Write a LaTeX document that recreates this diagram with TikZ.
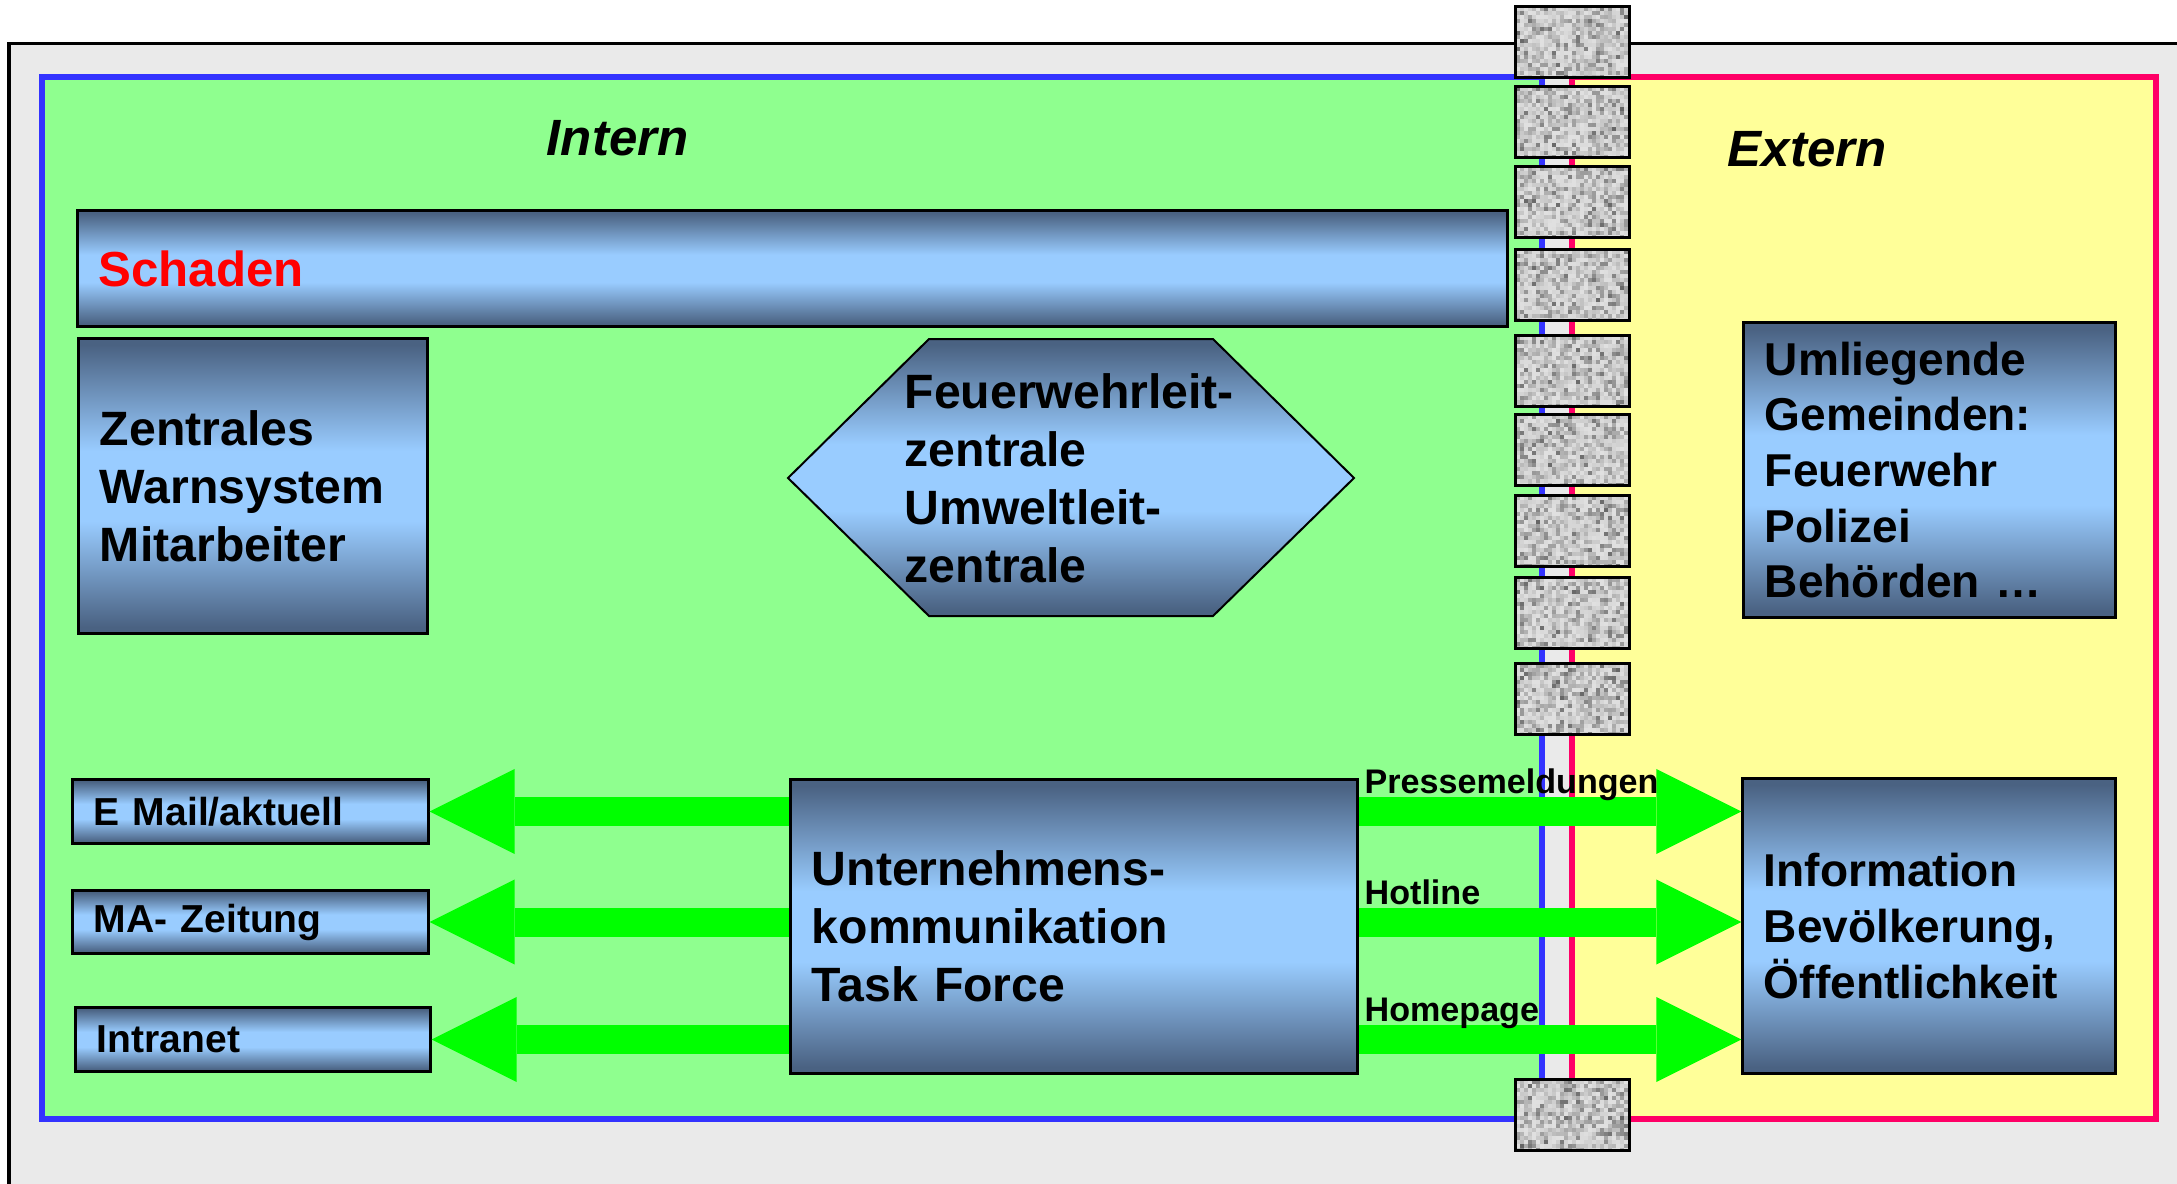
\documentclass[tikz,border=0pt]{standalone}
\usepackage{fontspec}
\setmainfont{Liberation Sans}
\usetikzlibrary{arrows.meta}
\definecolor{innengruen}{HTML}{8FFF8F}
\definecolor{aussengelb}{HTML}{FFFF99}
\definecolor{rahmengrau}{HTML}{EAEAEA}
\definecolor{linieblau}{HTML}{3333FF}
\definecolor{linierot}{HTML}{FF0066}
\definecolor{pfeilgruen}{HTML}{00FF00}
\definecolor{boxdunkel}{HTML}{4A6282}
\definecolor{boxhell}{HTML}{99CCFF}
\pgfdeclareverticalshading{schiefer}{100bp}{color(0bp)=(boxdunkel); color(26bp)=(boxdunkel); color(44bp)=(boxhell); color(56bp)=(boxhell); color(74bp)=(boxdunkel); color(100bp)=(boxdunkel)}
\tikzset{
  kasten/.style={draw,line width=0.03cm,shade,shading=schiefer,inner xsep=0.21cm,inner ysep=0pt,align=left},
  grosstext/.style={font=\fontsize{13.7pt}{16.5pt}\selectfont\bfseries},
  mitteltext/.style={font=\fontsize{13.1pt}{15.8pt}\selectfont\bfseries},
  kleintext/.style={font=\fontsize{11.1pt}{13pt}\selectfont\bfseries},
  bereich/.style={font=\fontsize{14.5pt}{17pt}\selectfont\bfseries\itshape,anchor=base west,inner sep=0},
  kanal/.style={font=\fontsize{9.7pt}{11pt}\selectfont\bfseries,text=black,anchor=base west,inner sep=0,outer sep=0,xshift=0.06cm,yshift=0.18cm},
  blockpfeil/.style={pfeilgruen,line width=0.29cm,-{Triangle[length=0.85cm,width=0.85cm,line width=0pt]}},
  stein/.style={draw,line width=0.03cm,minimum width=1.13cm,minimum height=0.70cm,inner sep=0,outer sep=0,
    path picture={
      \foreach \i in {0,...,28}
        \foreach \j in {0,...,17}{
          \pgfmathsetmacro\g{int(12+52*rnd*rnd)}
          \fill[black!\g] ([shift={(4*\i,4*\j)}]path picture bounding box.north west) rectangle +(4,4);
        }
    }}
}
\begin{document}
\begin{tikzpicture}[x=0.01cm,y=-0.01cm]
  \useasboundingbox (0,0) rectangle (2177,1184);
  \fill[rahmengrau] (9,43) rectangle (2177,1184);
  \draw[line width=0.03cm] (9,1184) -- (9,43) -- (2177,43);

  % die beiden Bereiche
  \draw[linieblau,fill=innengruen,line width=0.065cm] (42,77) rectangle (1542,1119);
  \draw[linierot,fill=aussengelb,line width=0.065cm] (1572,77) rectangle (2156,1119);
  \node[bereich] (intern) at (546,155) {Intern};
  \node[bereich] (extern) at (1727,166) {Extern};

  \node[kasten,text width=13.87cm,minimum height=1.15cm,font=\fontsize{14pt}{17pt}\selectfont\bfseries,text=red] (schaden) at (792.5,268.5) {Schaden};
  \node[kasten,grosstext,text width=3.06cm,minimum height=2.94cm] (warnsystem) at (253,486) {Zentrales\\Warnsystem\\Mitarbeiter};

  \shadedraw[shading=schiefer,line width=0.02cm] (788,478) -- (929,339) -- (1213,339) -- (1354,478) -- (1213,616) -- (929,616) -- cycle;
  \node[grosstext,align=left,anchor=west,inner sep=0] (leitzentrale) at (904,478) {Feuerwehrleit-\\zentrale\\Umweltleit-\\zentrale};

  \node[kasten,mitteltext,text width=3.29cm,minimum height=2.94cm] (gemeinden) at (1929.5,470) {Umliegende\\Gemeinden:\\Feuerwehr\\Polizei\\Behörden \dots};

  \node[kasten,kleintext,text width=3.13cm,minimum height=0.63cm] (mail) at (250.5,811.5) {E Mail/aktuell};
  \node[kasten,kleintext,text width=3.13cm,minimum height=0.62cm] (zeitung) at (250.5,922) {MA- Zeitung};
  \node[kasten,kleintext,text width=3.12cm,minimum height=0.63cm] (intranet) at (253,1039.5) {Intranet};

  \node[kasten,grosstext,text width=5.24cm,minimum height=2.93cm] (taskforce) at (1074,926.5) {Unternehmens-\\kommunikation\\Task Force};
  \node[kasten,mitteltext,text width=3.30cm,minimum height=2.94cm] (oeffentlichkeit) at (1929,926) {Information\\Bevölkerung,\\Öffentlichkeit};

  \draw[blockpfeil] (taskforce.west |- mail.east) -- (mail.east);
  \draw[blockpfeil] (taskforce.west |- zeitung.east) -- (zeitung.east);
  \draw[blockpfeil] (taskforce.west |- intranet.east) -- (intranet.east);

  \draw[blockpfeil] (taskforce.east |- mail.east) -- (oeffentlichkeit.west |- mail.east) node[kanal,pos=0] {Pressemeldungen};
  \draw[blockpfeil] (taskforce.east |- zeitung.east) -- (oeffentlichkeit.west |- zeitung.east) node[kanal,pos=0] {Hotline};
  \draw[blockpfeil] (taskforce.east |- intranet.east) -- (oeffentlichkeit.west |- intranet.east) node[kanal,pos=0] {Homepage};

  % Mauer zwischen intern und extern
  \pgfmathsetseed{2718}
  \foreach \oben [count=\k] in {7,87,167,250,336,415,496,578,664,1080}
    \node[stein] (stein\k) at (1572.5,\oben+35) {};
\end{tikzpicture}
\end{document}
